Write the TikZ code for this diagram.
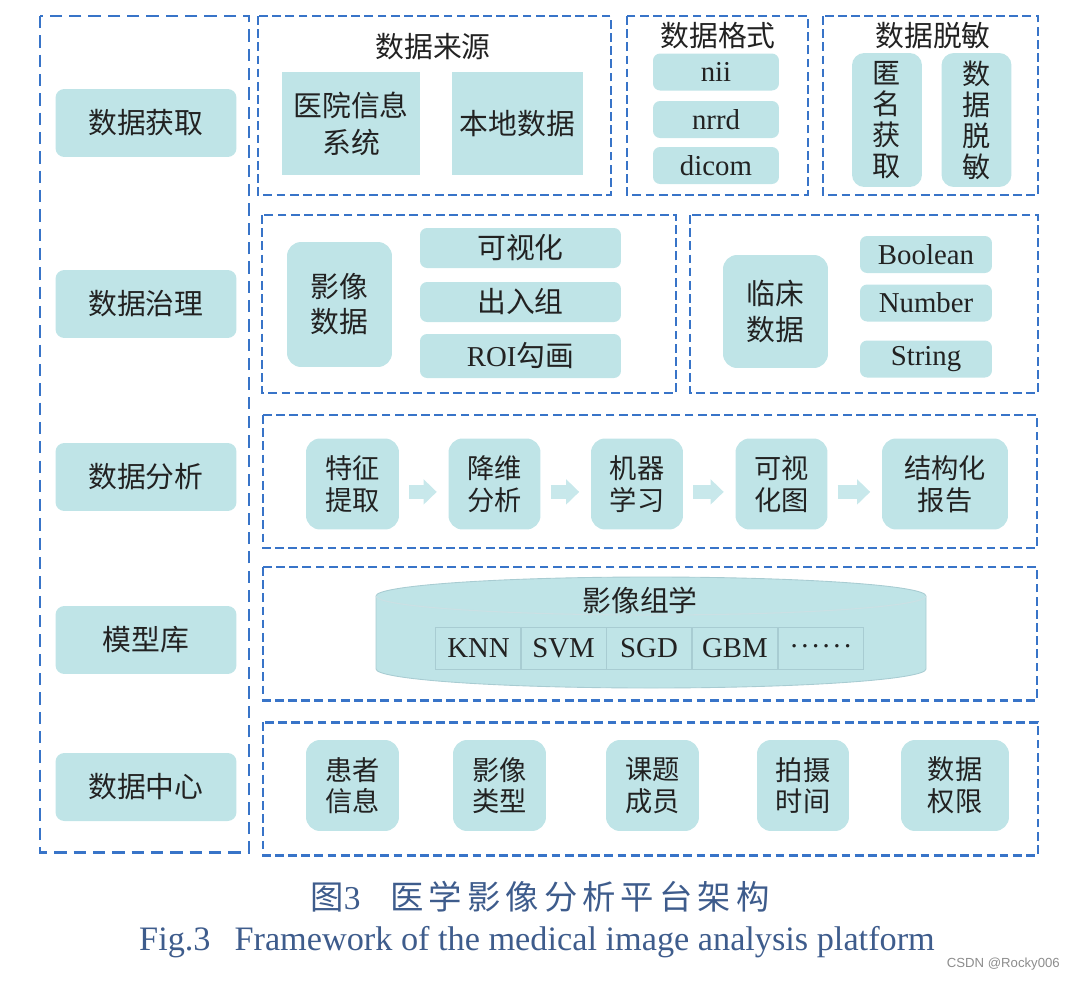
\documentclass[tikz,border=0pt]{standalone}
\usepackage{fontspec}
\setmainfont{Liberation Serif}
\newfontfamily\cjk{Noto Sans CJK SC}
\newfontfamily\cjkcap[LetterSpace=15]{Noto Sans CJK SC}
\newfontfamily\wmfont{Liberation Sans}
\usepackage{xcolor}
\definecolor{mlblue}{RGB}{56,116,200}
\definecolor{mlteal}{RGB}{191,228,231}
\definecolor{mlarrow}{RGB}{200,232,235}
\definecolor{mltext}{RGB}{34,34,34}
\definecolor{mlcap}{RGB}{62,92,140}
\definecolor{mlcell}{RGB}{168,204,210}
\usetikzlibrary{arrows.meta,positioning}
\newcommand\fsbig{\fontsize{16.4}{20}\selectfont}
\newcommand\fsmid{\fontsize{15.5}{18}\selectfont}
\newcommand\dotsix{\raisebox{0.12em}{.\kern2pt.\kern2pt.\kern2pt.\kern2pt.\kern2pt.}}
\tikzset{
  outer/.style={draw=mlblue, line width=1.7pt, dash pattern=on 7pt off 4pt},
  layer/.style={draw=mlblue, line width=1.7pt, dash pattern=on 5pt off 2.5pt},
  title/.style={font=\cjk\fsbig, text=mltext, inner sep=0pt},
  lnode/.style={fill=mlteal, rounded corners=5pt, font=\cjk\fsbig, text=mltext,
                minimum width=3.62cm, minimum height=1.36cm, inner sep=0pt},
  sqbox/.style={fill=mlteal, font=\cjk\fontsize{16.4}{21}\selectfont, text=mltext, align=center,
                minimum width=#1, minimum height=2.06cm, inner sep=0pt},
  pill/.style={fill=mlteal, rounded corners=4pt, font=\fsbig, text=mltext,
               minimum width=#1, minimum height=0.74cm, inner sep=0pt},
  vbox/.style={fill=mlteal, rounded corners=7pt, font=\cjk\fontsize{16}{17.6}\selectfont,
               text=mltext, align=center, minimum width=1.4cm, minimum height=2.68cm, inner sep=0pt},
  dbox/.style={fill=mlteal, rounded corners=8pt, font=\cjk\fsbig, text=mltext, align=center,
               minimum width=2.1cm, minimum height=#1, inner sep=0pt},
  snode/.style={fill=mlteal, rounded corners=8pt, font=\cjk\fsmid, text=mltext, align=center,
                minimum width=#1, minimum height=1.82cm, inner sep=0pt},
  cell/.style={draw=mlcell, line width=0.5pt, font=\fsbig, text=mltext,
               minimum width=1.71cm, minimum height=0.84cm, inner sep=0pt},
  flow/.style={draw=mlarrow, line width=8pt, -{Triangle[length=7.5pt,width=14pt]},
               shorten <=5.5pt, shorten >=6.5pt},
}

\begin{document}
\begin{tikzpicture}[x=0.02cm, y=-0.02cm]
\useasboundingbox (0,0) rectangle (1080,981);

% Left column: platform layers
\draw[outer] (40,16) rectangle (249,852);
\node[lnode] (acq) at (146,123) {数据获取};
\node[lnode] (gov) at (146,304) {数据治理};
\node[lnode] (ana) at (146,477) {数据分析};
\node[lnode] (lib) at (146,640) {模型库};
\node[lnode] (ctr) at (146,787) {数据中心};

% Data acquisition
\draw[layer] (258,16) rectangle (611,195);
\node[title] (srct) at (433,47) {数据来源};
\node[sqbox=2.76cm] (his) at (351,123.5) {医院信息\\系统};
\node[sqbox=2.62cm] (loc) at (517.5,123.5) {本地数据};

\draw[layer] (627,16) rectangle (808,195);
\node[title] (fmtt) at (718,36) {数据格式};
\node[pill=2.52cm] (nii) at (716,72) {nii};
\node[pill=2.52cm] (nrrd) at (716,119.5) {nrrd};
\node[pill=2.52cm] (dcm) at (716,165.5) {dicom};

\draw[layer] (823,16) rectangle (1038,195);
\node[title] (dest) at (933,36) {数据脱敏};
\node[vbox] (anon) at (887,120) {匿\\名\\获\\取};
\node[vbox] (mask) at (976.5,120) {数\\据\\脱\\敏};

% Data governance
\draw[layer] (262,215) rectangle (676,393);
\node[dbox=2.5cm] (imgd) at (339.5,304.5) {影像\\数据};
\node[pill=4.02cm, minimum height=0.8cm] (vis) at (520.5,248) {\cjk 可视化};
\node[pill=4.02cm, minimum height=0.8cm] (grp) at (520.5,302) {\cjk 出入组};
\node[pill=4.02cm, minimum height=0.88cm] (roi) at (520.5,356) {ROI\cjk 勾画};

\draw[layer] (690,215) rectangle (1038,393);
\node[dbox=2.26cm] (clin) at (775.5,311.5) {临床\\数据};
\node[pill=2.64cm] (bool) at (926,254.5) {Boolean};
\node[pill=2.64cm] (numb) at (926,303) {Number};
\node[pill=2.64cm] (strg) at (926,359) {String};

% Data analysis pipeline
\draw[layer] (263,415) rectangle (1037,548);
\node[snode=1.86cm] (feat) at (352.5,484) {特征\\提取};
\node[snode=1.84cm] (dimr) at (494.5,484) {降维\\分析};
\node[snode=1.84cm] (mlrn) at (637,484) {机器\\学习};
\node[snode=1.84cm] (vism) at (781.5,484) {可视\\化图};
\node[snode=2.52cm] (rept) at (945,484) {结构化\\报告};

\draw[flow] ([yshift=-4.5pt]feat.east) -- ([yshift=-4.5pt]dimr.west);
\draw[flow] ([yshift=-4.5pt]dimr.east) -- ([yshift=-4.5pt]mlrn.west);
\draw[flow] ([yshift=-4.5pt]mlrn.east) -- ([yshift=-4.5pt]vism.west);
\draw[flow] ([yshift=-4.5pt]vism.east) -- ([yshift=-4.5pt]rept.west);

% Model library
\draw[layer] (263,567) rectangle (1037,700);
\path[fill=mlteal, draw=mlcell, line width=0.5pt] (376,596) -- (376,669)
  arc[start angle=180, end angle=0, x radius=275, y radius=19] -- (926,596)
  arc[start angle=0, end angle=-180, x radius=275, y radius=19] -- cycle;
\draw[draw=mlcell!60!white, line width=0.6pt] (376,596) arc[start angle=180, end angle=0, x radius=275, y radius=19];
\node[title] (rad) at (640,600) {影像组学};
\node[cell] (knn) at (478.5,648) {KNN};
\node[cell] (svm) at (563.5,648) {SVM};
\node[cell] (sgd) at (649,648) {SGD};
\node[cell] (gbm) at (735,648) {GBM};
\node[cell] (more) at (821,648) {\dotsix};

% Data center
\draw[layer] (263,722) rectangle (1038,855);
\node[snode=1.86cm] (pat) at (352.5,785.5) {患者\\信息};
\node[snode=1.86cm] (typ) at (499.5,785.5) {影像\\类型};
\node[snode=1.86cm] (mem) at (652.5,785.5) {课题\\成员};
\node[snode=1.84cm] (tim) at (803,785.5) {拍摄\\时间};
\node[snode=2.16cm] (prm) at (955,785.5) {数据\\权限};

% Caption
\node[font=\fontsize{19}{22}\selectfont, text=mlcap] (capzh) at (540,897)
  {{\cjk 图}3\hspace{0.9em}{\cjkcap 医学影像分析平台架构}};
\node[font=\fontsize{19.5}{22}\selectfont, text=mlcap] (capen) at (537,942)
  {Fig.3\hspace{0.7em}Framework of the medical image analysis platform};
\node[font=\wmfont\fontsize{7.5}{9}\selectfont, text=black!45, anchor=east] (wm) at (1066,964) {CSDN @Rocky006};

\end{tikzpicture}
\end{document}
